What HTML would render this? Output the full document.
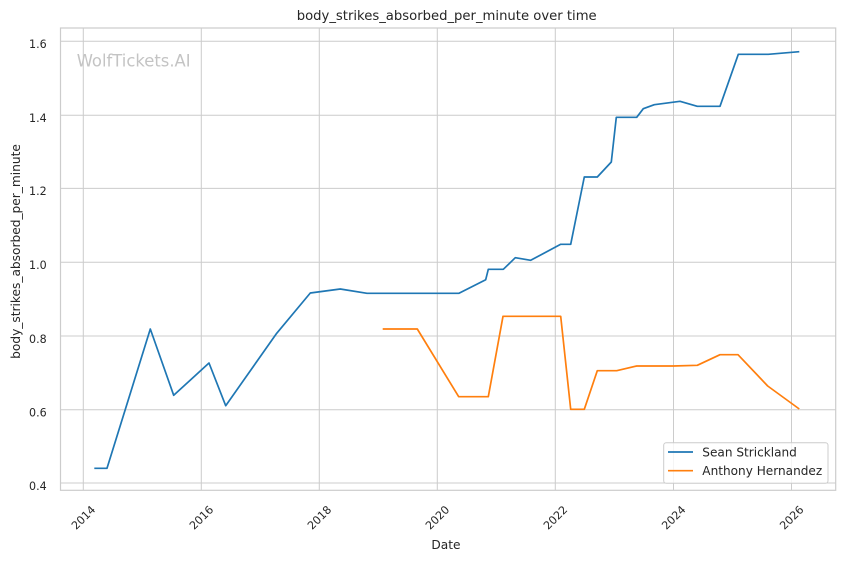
<!DOCTYPE html>
<html>
<head>
<meta charset="utf-8">
<style>
html,body{margin:0;padding:0;background:#fff;}
svg{display:block;}
text{font-family:"DejaVu Sans","Liberation Sans",sans-serif;fill:#262626;}
</style>
</head>
<body>
<svg width="844" height="561" viewBox="0 0 844 561" xmlns="http://www.w3.org/2000/svg">
<rect x="0" y="0" width="844" height="561" fill="#fff"/>
<!-- grid -->
<g stroke="#cccccc" stroke-width="1" fill="none">
<line x1="83.3" y1="28" x2="83.3" y2="490.3"/>
<line x1="201.3" y1="28" x2="201.3" y2="490.3"/>
<line x1="319.3" y1="28" x2="319.3" y2="490.3"/>
<line x1="437.3" y1="28" x2="437.3" y2="490.3"/>
<line x1="555.3" y1="28" x2="555.3" y2="490.3"/>
<line x1="673.5" y1="28" x2="673.5" y2="490.3"/>
<line x1="791.5" y1="28" x2="791.5" y2="490.3"/>
<line x1="60.5" y1="41.3" x2="835.7" y2="41.3"/>
<line x1="60.5" y1="115.2" x2="835.7" y2="115.2"/>
<line x1="60.5" y1="188.4" x2="835.7" y2="188.4"/>
<line x1="60.5" y1="262.2" x2="835.7" y2="262.2"/>
<line x1="60.5" y1="336" x2="835.7" y2="336"/>
<line x1="60.5" y1="409.8" x2="835.7" y2="409.8"/>
<line x1="60.5" y1="483" x2="835.7" y2="483"/>
<rect x="60.5" y="28" width="775.2" height="462.3" stroke-width="1.2"/>
</g>
<!-- watermark -->
<text x="76.7" y="66.5" font-size="16.4" style="fill:#c4c4c4">WolfTickets.AI</text>
<!-- series -->
<polyline fill="none" stroke="#1f77b4" stroke-width="1.7" stroke-linejoin="round" points="94.3,468.3 107,468.3 150.3,329 173.7,395.3 209,363 225.7,405.7 276.7,333.3 310.3,293 340.3,289 367,293.3 459,293.3 485.7,279.7 488.3,269.3 503.3,269.3 515.3,257.7 530.7,260.3 560.7,244.3 570.7,244.3 584.3,177 597.3,177 611.3,162 616.3,117.3 636.7,117.3 643.3,108.7 654.3,104.7 680,101.3 697.3,106.3 720,106.3 738.3,54.3 768.3,54.3 799.3,51.7"/>
<polyline fill="none" stroke="#ff7f0e" stroke-width="1.7" stroke-linejoin="round" points="382.7,329 417.3,329 458.7,396.7 488.3,396.7 503,316.3 560.7,316.3 570.7,409.3 584.3,409.3 597.3,370.7 616.7,370.7 636.7,366 673.3,366 697.3,365.3 720,354.7 738,354.7 767.7,386 799.3,409"/>
<!-- y tick labels -->
<g font-size="11.1" text-anchor="end">
<text x="46.7" y="48.2">1.6</text>
<text x="46.7" y="122">1.4</text>
<text x="46.7" y="195.2">1.2</text>
<text x="46.7" y="269">1.0</text>
<text x="46.7" y="342.8">0.8</text>
<text x="46.7" y="416.6">0.6</text>
<text x="46.7" y="489.8">0.4</text>
</g>
<!-- x tick labels -->
<g font-size="11.1" text-anchor="middle">
<text transform="translate(83.3,517.5) rotate(-45)" dy="4">2014</text>
<text transform="translate(201.3,517.5) rotate(-45)" dy="4">2016</text>
<text transform="translate(319.3,517.5) rotate(-45)" dy="4">2018</text>
<text transform="translate(437.3,517.5) rotate(-45)" dy="4">2020</text>
<text transform="translate(555.3,517.5) rotate(-45)" dy="4">2022</text>
<text transform="translate(673.5,517.5) rotate(-45)" dy="4">2024</text>
<text transform="translate(791.5,517.5) rotate(-45)" dy="4">2026</text>
</g>
<!-- axis labels -->
<text x="446" y="549" font-size="12.2" text-anchor="middle">Date</text>
<text transform="translate(20,251.5) rotate(-90)" font-size="12.2" text-anchor="middle">body_strikes_absorbed_per_minute</text>
<!-- title -->
<text x="446.7" y="20" font-size="13.2" text-anchor="middle">body_strikes_absorbed_per_minute over time</text>
<!-- legend -->
<rect x="663.7" y="442.7" width="164.3" height="40.6" rx="2.5" ry="2.5" fill="#ffffff" fill-opacity="0.8" stroke="#cccccc" stroke-width="1"/>
<line x1="668" y1="452" x2="693" y2="452" stroke="#1f77b4" stroke-width="1.7"/>
<line x1="668" y1="470.7" x2="693" y2="470.7" stroke="#ff7f0e" stroke-width="1.7"/>
<g font-size="12.1">
<text x="702.3" y="456.4">Sean Strickland</text>
<text x="702.3" y="475.1">Anthony Hernandez</text>
</g>
</svg>
</body>
</html>
